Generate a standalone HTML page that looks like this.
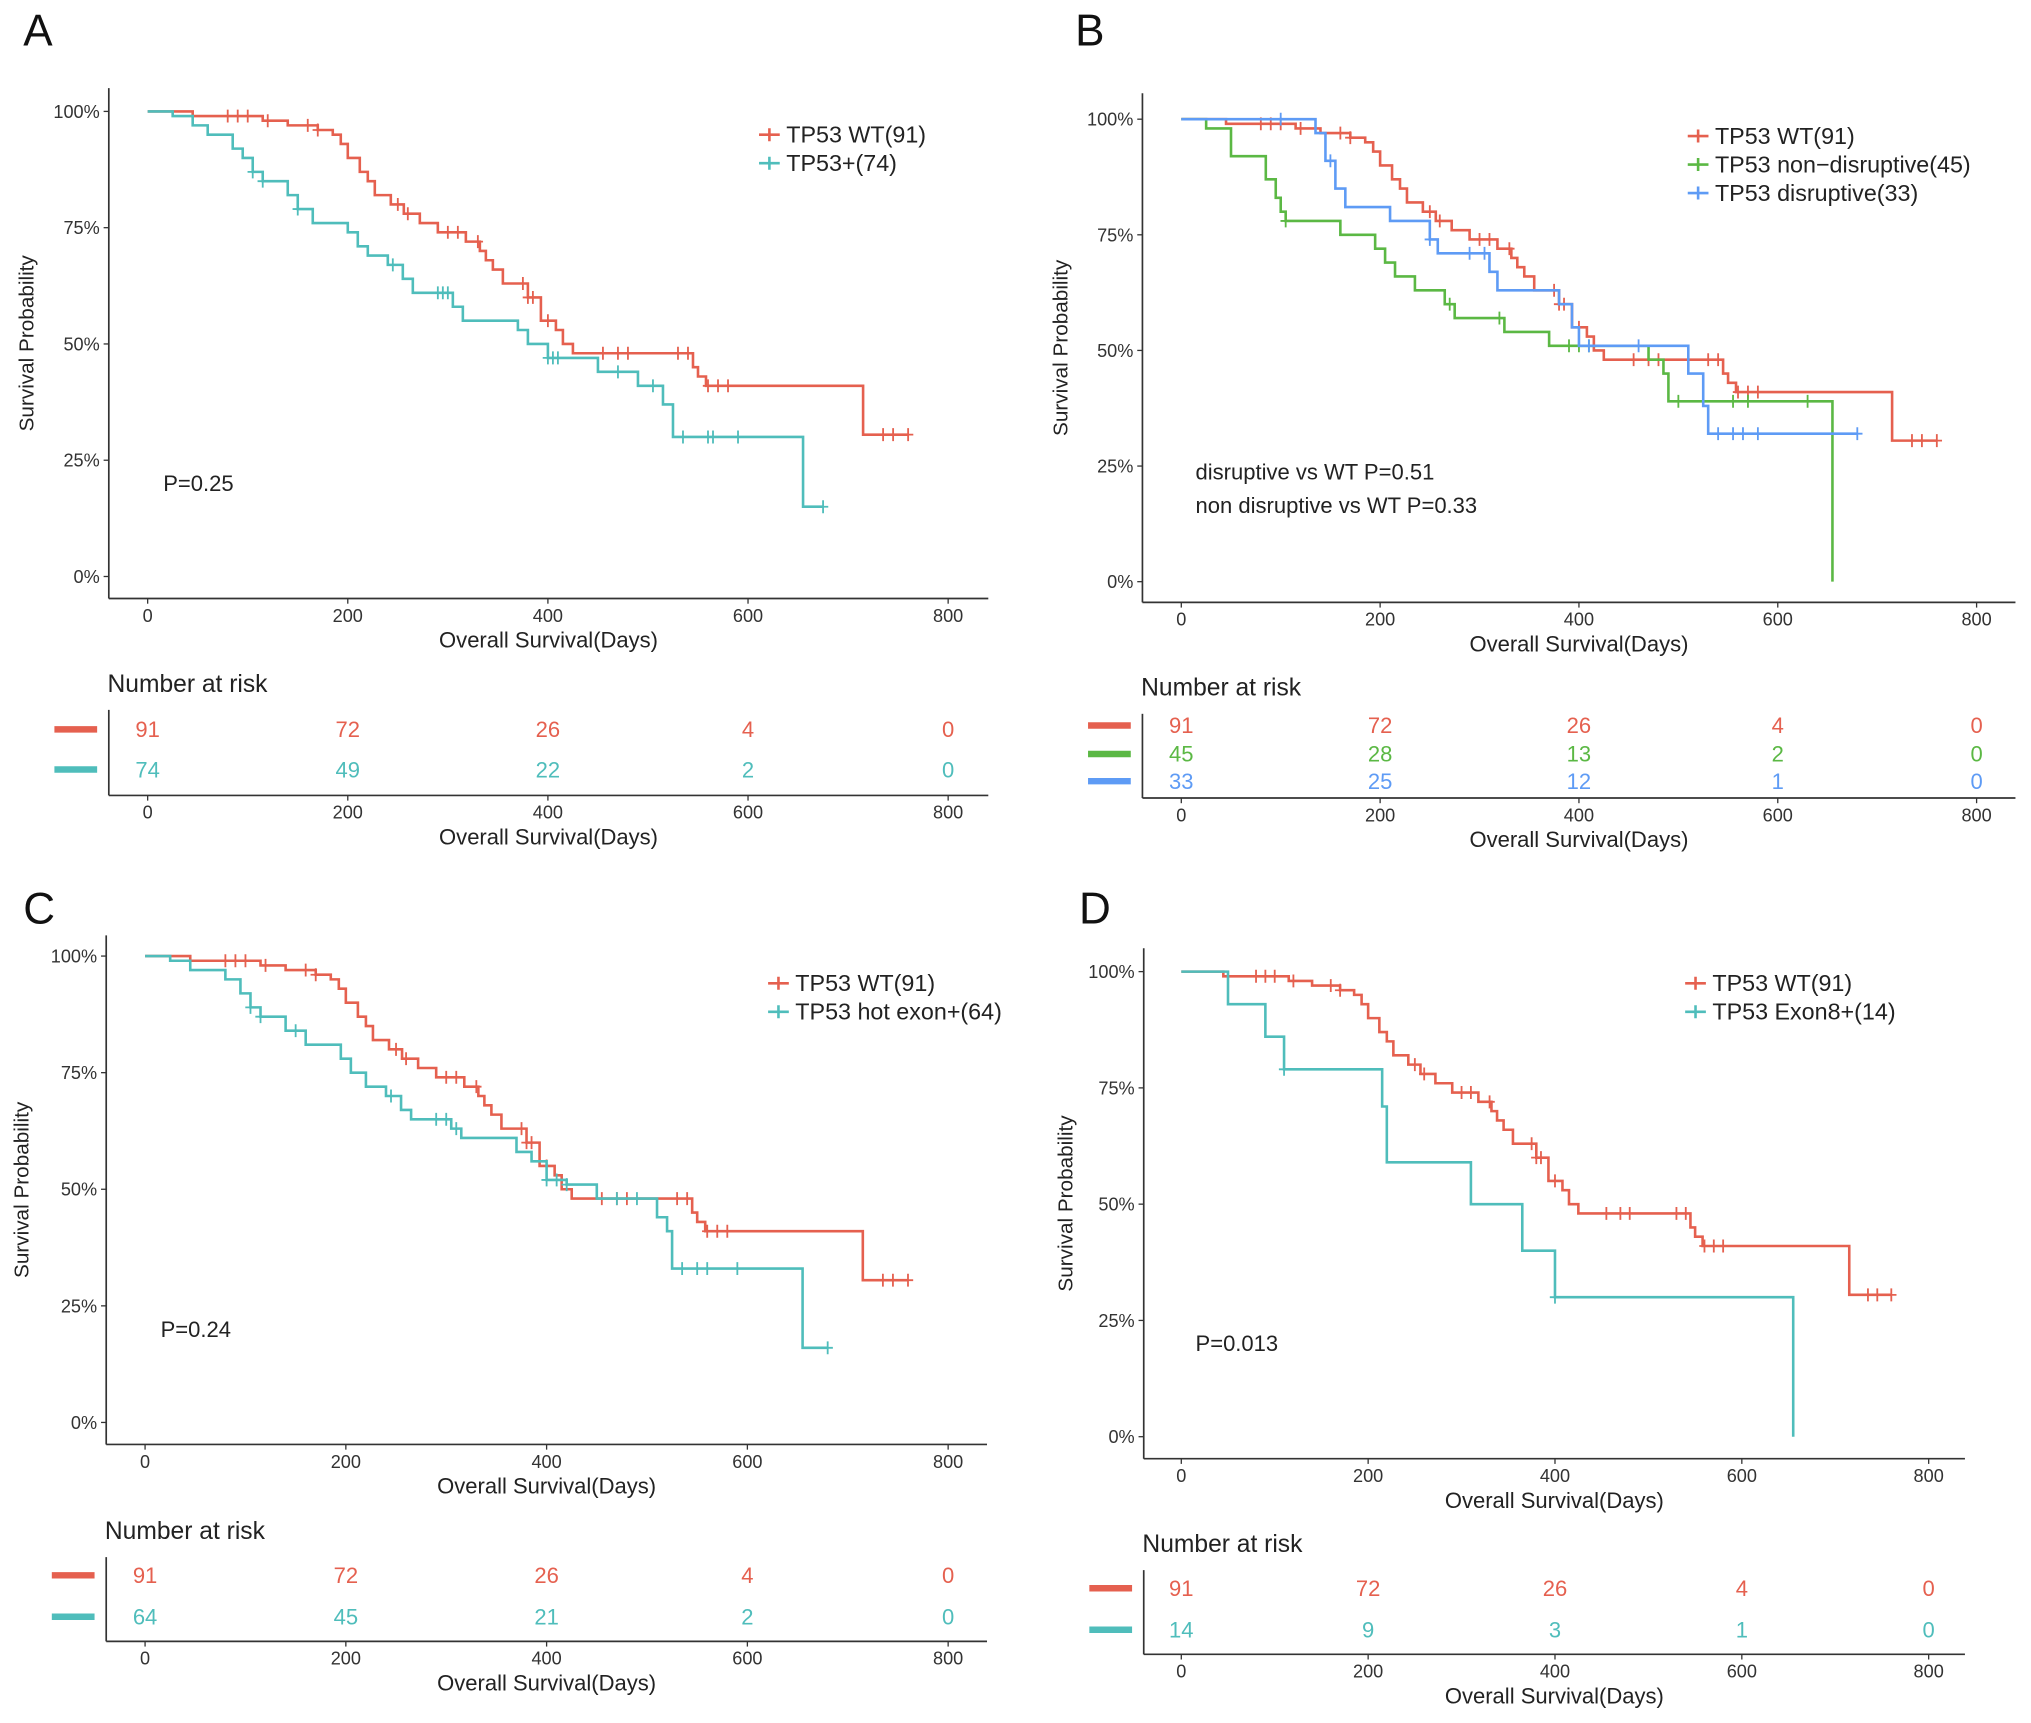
<!DOCTYPE html>
<html><head><meta charset="utf-8"><style>
html,body{margin:0;padding:0;background:#fff;}
svg{display:block;font-family:"Liberation Sans",Arial,sans-serif;}
</style></head><body>
<svg id="fig" width="2031" height="1723" viewBox="0 0 1568 1330" preserveAspectRatio="none" xmlns="http://www.w3.org/2000/svg"></svg>
<script>
// ---- data (days, survival) ----
const wtSteps=[[0,1],[45,0.99],[115,0.98],[140,0.97],[170,0.96],[185,0.95],[193,0.93],[200,0.90],[212,0.87],[220,0.85],[227,0.82],[243,0.80],[256,0.78],[272,0.76],[290,0.74],[318,0.72],[332,0.70],[338,0.68],[345,0.66],[355,0.63],[380,0.60],[393,0.55],[408,0.53],[415,0.50],[425,0.48],[545,0.45],[550,0.43],[558,0.41],[715,0.305]];
const wtEnd=760;
const wtCens=[80,90,100,120,160,170,250,260,300,310,330,375,380,385,400,455,470,480,530,540,560,570,580,735,745,760];
const mutSteps=[[0,1],[25,0.99],[45,0.97],[60,0.95],[85,0.92],[95,0.90],[105,0.87],[115,0.85],[140,0.82],[150,0.79],[165,0.76],[200,0.74],[210,0.71],[220,0.69],[240,0.67],[255,0.64],[265,0.61],[305,0.58],[315,0.55],[370,0.53],[380,0.50],[400,0.47],[450,0.44],[490,0.41],[515,0.37],[525,0.30],[655,0.15]];
const mutEnd=675;
const mutCens=[105,115,150,245,290,295,300,400,405,410,470,505,535,560,565,590,675];
const hotSteps=[[0,1],[25,0.99],[45,0.97],[80,0.95],[95,0.92],[105,0.89],[115,0.87],[140,0.84],[160,0.81],[195,0.78],[205,0.75],[220,0.72],[240,0.70],[255,0.67],[265,0.65],[305,0.63],[315,0.61],[370,0.58],[385,0.56],[400,0.52],[420,0.51],[450,0.48],[510,0.44],[520,0.41],[525,0.33],[655,0.16]];
const hotEnd=680;
const hotCens=[105,115,150,245,290,300,310,400,410,420,470,490,535,550,560,590,680];
const ndSteps=[[0,1],[25,0.98],[50,0.92],[85,0.87],[95,0.83],[100,0.80],[105,0.78],[160,0.75],[195,0.72],[205,0.69],[215,0.66],[235,0.63],[265,0.60],[275,0.57],[325,0.54],[370,0.51],[470,0.48],[485,0.45],[490,0.39],[655,0]];
const ndEnd=655;
const ndCens=[105,270,320,390,400,410,500,555,570,630];
const dsSteps=[[0,1],[135,0.97],[145,0.91],[155,0.85],[165,0.81],[210,0.78],[250,0.74],[258,0.71],[310,0.67],[318,0.63],[380,0.60],[393,0.55],[400,0.51],[510,0.45],[525,0.38],[530,0.32]];
const dsEnd=680;
const dsCens=[100,150,250,290,305,410,460,540,555,565,580,680];
const e8Steps=[[0,1],[50,0.93],[90,0.86],[110,0.79],[215,0.71],[220,0.59],[310,0.50],[365,0.40],[400,0.30],[655,0]];
const e8End=655;
const e8Cens=[110,400];
const yTicks=[0,0.25,0.5,0.75,1];
const yTickLabels=["0%","25%","50%","75%","100%"];
const xTicks=[0,200,400,600,800];
const riskWT=[91,72,26,4,0], riskMut=[74,49,22,2,0], riskHot=[64,45,21,2,0], riskND=[45,28,13,2,0], riskDS=[33,25,12,1,0], riskE8=[14,9,3,1,0];

const RED="#E5604F",TEAL="#4FBDBB",GREEN="#5BB844",BLUE="#5E9BF5",AX="#333";
const svg=document.getElementById('fig');
const NS="http://www.w3.org/2000/svg";
function el(tag,attrs,parent){const e=document.createElementNS(NS,tag);for(const k in attrs)e.setAttribute(k,attrs[k]);(parent||svg).appendChild(e);return e;}
function txt(s,x,y,size,anchor,fill,parent,name){const t=el('text',{x:x,y:y,'font-size':size,'text-anchor':anchor||'start',fill:fill||AX},parent);t.textContent=s;return t;}

function panel(P){
  const g=el('g',{});
  
  
  const sx=d=>P.x0+(P.x800-P.x0)*d/800;
  const sy=s=>P.y0+(P.y100-P.y0)*s;
  txt(P.letter,P.lx,P.ly,34,'start','#111',g,'panel-letter');
  // axes
  el('line',{x1:P.ax,y1:P.axTop,x2:P.ax,y2:P.axY,stroke:AX,'stroke-width':1.3},g);
  el('line',{x1:P.ax,y1:P.axY,x2:P.axR,y2:P.axY,stroke:AX,'stroke-width':1.3},g);
  yTicks.forEach((v,i)=>{
    el('line',{x1:P.ax-4,y1:sy(v),x2:P.ax,y2:sy(v),stroke:AX},g);
    txt(yTickLabels[i],P.ax-7,sy(v)+5,14,'end','#333',g,'y-tick-label');
  });
  xTicks.forEach(v=>{
    el('line',{x1:sx(v),y1:P.axY,x2:sx(v),y2:P.axY+4,stroke:AX},g);
    txt(String(v),sx(v),P.axY+18,14,'middle','#333',g,'x-tick-label');
  });
  txt('Overall Survival(Days)',(P.ax+P.axR)/2+P.xtOff,P.axY+38,17,'middle','#222',g,'x-axis-title');
  const yt=txt('Survival Probability',0,0,16,'middle','#222',g,'y-axis-title');
  yt.setAttribute('transform','translate('+P.ytx+','+((P.axTop+P.axY)/2)+') rotate(-90)');
  // curves
  P.series.forEach(S=>{
    let d='M'+sx(S.steps[0][0])+','+sy(S.steps[0][1]);
    for(let i=1;i<S.steps.length;i++){d+='H'+sx(S.steps[i][0])+'V'+sy(S.steps[i][1]);}
    const last=S.steps[S.steps.length-1];
    if(S.end>last[0]) d+='H'+sx(S.end);
    const p=el('path',{d:d,fill:'none',stroke:S.color,'stroke-width':2},g);
    
    
    S.cens.forEach(c=>{
      let s=S.steps[0][1];
      for(const st of S.steps){if(st[0]<=c)s=st[1];}
      const m=el('path',{d:'M'+(sx(c)-4)+','+sy(s)+'h8M'+sx(c)+','+(sy(s)-5)+'v10',stroke:S.color,'stroke-width':1.4},g);
      
      
    });
  });
  // legend
  P.series.forEach((S,i)=>{
    const ly=P.legY+i*22;
    el('path',{d:'M'+P.legX+','+ly+'h16M'+(P.legX+8)+','+(ly-5)+'v10',stroke:S.color,'stroke-width':2},g);
    txt(S.label,P.legX+21,ly+6,18,'start','#222',g,'legend-entry');
  });
  P.ptext.forEach((t,i)=>txt(t,P.px,P.py+i*26,17,'start','#222',g,'p-value'));
  // risk table
  txt('Number at risk',P.ax-1,P.rtY,19,'start','#222',g,'risk-table-title');
  el('line',{x1:P.ax,y1:P.rtY+14,x2:P.ax,y2:P.raxY,stroke:AX,'stroke-width':1.3},g);
  el('line',{x1:P.ax,y1:P.raxY,x2:P.axR,y2:P.raxY,stroke:AX,'stroke-width':1.3},g);
  P.series.forEach((S,i)=>{
    const ry=P.rows[i];
    el('line',{x1:P.ax-42,y1:ry,x2:P.ax-9,y2:ry,stroke:S.color,'stroke-width':5},g);
    S.risk.forEach((n,j)=>txt(String(n),sx(xTicks[j]),ry+6,17,'middle',S.color,g,'risk-count'));
  });
  xTicks.forEach(v=>{
    el('line',{x1:sx(v),y1:P.raxY,x2:sx(v),y2:P.raxY+4,stroke:AX},g);
    txt(String(v),sx(v),P.raxY+18,14,'middle','#333',g,'risk-x-tick');
  });
  txt('Overall Survival(Days)',(P.ax+P.axR)/2+P.xtOff,P.raxY+38,17,'middle','#222',g,'risk-x-title');
}
const WT={key:'wt',label:'TP53 WT(91)',color:RED,steps:wtSteps,end:wtEnd,cens:wtCens,risk:riskWT};
panel({letter:'A',lx:18,ly:35,ax:84,axTop:68,axY:462,axR:763,x0:114,x800:732,y0:445,y100:86,ytx:26,xtOff:0,
  legX:586,legY:104,px:126,py:379,ptext:['P=0.25'],rtY:534,rows:[563,594],raxY:614,
  series:[WT,{key:'tp53-mut',label:'TP53+(74)',color:TEAL,steps:mutSteps,end:mutEnd,cens:mutCens,risk:riskMut}]});
panel({letter:'B',lx:830,ly:35,ax:882,axTop:72,axY:465,axR:1556,x0:912,x800:1526,y0:449,y100:92,ytx:824,xtOff:0,
  legX:1303,legY:105,px:923,py:370,ptext:['disruptive vs WT P=0.51','non disruptive vs WT P=0.33'],rtY:537,rows:[560,582,603],raxY:616,
  series:[WT,{key:'non-disruptive',label:'TP53 non\u2212disruptive(45)',color:GREEN,steps:ndSteps,end:ndEnd,cens:ndCens,risk:riskND},
    {key:'disruptive',label:'TP53 disruptive(33)',color:BLUE,steps:dsSteps,end:dsEnd,cens:dsCens,risk:riskDS}]});
panel({letter:'C',lx:18,ly:713,ax:82,axTop:722,axY:1115,axR:762,x0:112,x800:732,y0:1098,y100:738,ytx:22,xtOff:0,
  legX:593,legY:759,px:124,py:1032,ptext:['P=0.24'],rtY:1188,rows:[1216,1248],raxY:1267,
  series:[WT,{key:'hot-exon',label:'TP53 hot exon+(64)',color:TEAL,steps:hotSteps,end:hotEnd,cens:hotCens,risk:riskHot}]});
panel({letter:'D',lx:833,ly:713,ax:883,axTop:732,axY:1126,axR:1517,x0:912,x800:1489,y0:1109,y100:750,ytx:828,xtOff:0,
  legX:1301,legY:759,px:923,py:1043,ptext:['P=0.013'],rtY:1198,rows:[1226,1258],raxY:1277,
  series:[WT,{key:'exon8',label:'TP53 Exon8+(14)',color:TEAL,steps:e8Steps,end:e8End,cens:e8Cens,risk:riskE8}]});
</script>
</body></html>
